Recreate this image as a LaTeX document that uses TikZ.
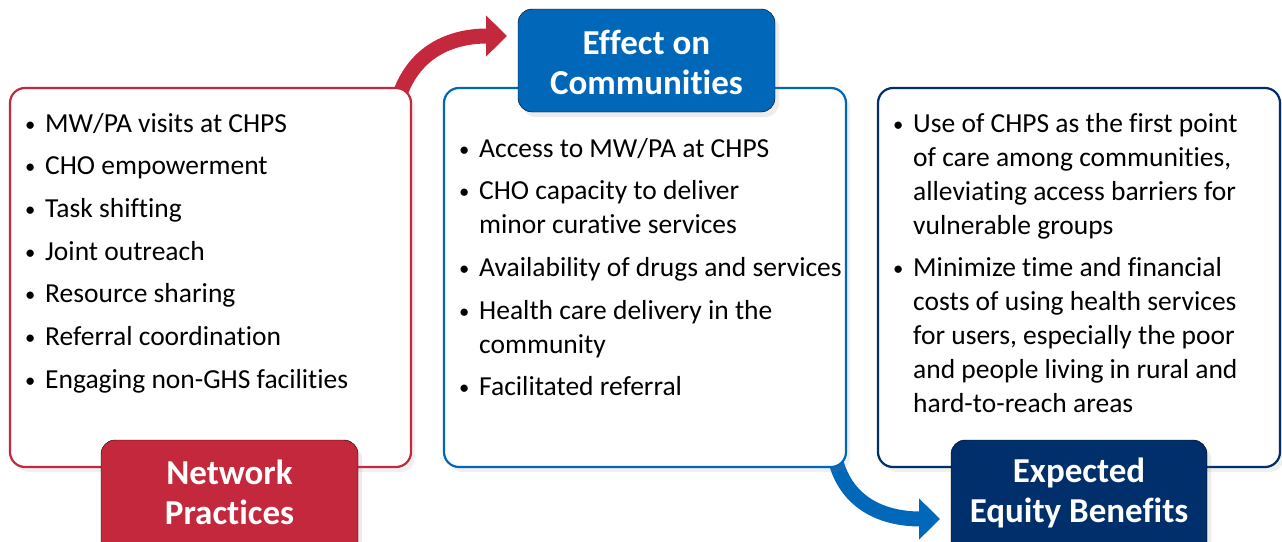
\documentclass[tikz,border=0pt]{standalone}
\usepackage{fontspec}
\usepackage{graphicx}
\setmainfont{Carlito}[Ligatures=NoCommon]
\usetikzlibrary{arrows.meta,shadows}
\definecolor{npred}{HTML}{C4283D}
\definecolor{ecblue}{HTML}{0067B9}
\definecolor{eqnavy}{HTML}{002F6C}
\tikzset{
  panel/.style={draw=#1, line width=2.2pt, fill=white, rounded corners=15pt,
    drop shadow={opacity=0.12, shadow xshift=4pt, shadow yshift=-5pt}},
  tag/.style={fill=#1, rounded corners=14pt,
    drop shadow={opacity=0.15, shadow xshift=4pt, shadow yshift=-5pt}},
  tagtext/.style={text=white, font=\fontsize{35}{40}\selectfont\bfseries, align=center, inner sep=0pt},
  listtext/.style={anchor=base west, inner sep=0pt, font=\fontsize{27.5}{34}\selectfont},
  flow/.style={line width=15pt, draw=#1, -{Triangle[length=21pt,width=40pt]}}
}
\newcommand{\itm}[1]{\makebox[20pt][l]{\raisebox{1pt}{\scalebox{0.75}{\textbullet}}}&#1}
\begin{document}
\begin{tikzpicture}[x=1pt,y=-1pt]
\useasboundingbox (0,0) rectangle (1282,541);
% connectors (behind panels)
\coordinate (ra) at (400,94);
\coordinate (rb) at (507,36);
\coordinate (ba) at (836,462);
\coordinate (bb) at (940,519);
\draw[flow=npred] (ra) .. controls (415,52) and (450,36) .. (rb);
\draw[flow=ecblue] (ba) .. controls (848,505) and (885,519) .. (bb);
% panels
\draw[panel=npred] (10,88) rectangle (411,467);
\draw[panel=ecblue] (444,88) rectangle (846,467);
\draw[panel=eqnavy] (878,88) rectangle (1280,467);
% lists
\node[listtext] (redlist) at (25,132) {\begin{tabular}[t]{@{}l@{}l@{}}
\itm{MW/PA visits at CHPS}\\[8.7pt]
\itm{CHO empowerment}\\[8.7pt]
\itm{Task shifting}\\[8.7pt]
\itm{Joint outreach}\\[8.7pt]
\itm{Resource sharing}\\[8.7pt]
\itm{Referral coordination}\\[8.7pt]
\itm{Engaging non-GHS facilities}
\end{tabular}};
\node[listtext] (bluelist) at (459,157) {\begin{tabular}[t]{@{}l@{}l@{}}
\itm{Access to MW/PA at CHPS}\\[8.7pt]
\itm{CHO capacity to deliver}\\
& minor curative services\\[8.7pt]
\itm{Availability of drugs and services}\\[8.7pt]
\itm{Health care delivery in the}\\
& community\\[8.7pt]
\itm{Facilitated referral}
\end{tabular}};
\node[listtext] (navylist) at (893,132) {\begin{tabular}[t]{@{}l@{}l@{}}
\itm{Use of CHPS as the first point}\\
& of care among communities,\\
& alleviating access barriers for\\
& vulnerable groups\\[8.7pt]
\itm{Minimize time and financial}\\
& costs of using health services\\
& for users, especially the poor\\
& and people living in rural and\\
& hard-to-reach areas
\end{tabular}};
% tags
\draw[tag=npred] (101,440) rectangle (358,556);
\node[tagtext] (redtag) at (229.5,492) {Network\\Practices};
\draw[tag=ecblue] (518,9) rectangle (775,112);
\node[tagtext] (bluetag) at (646.5,62) {Effect on\\Communities};
\draw[tag=eqnavy] (951,440) rectangle (1207,556);
\node[tagtext] (navytag) at (1079,493) {Expected\\Equity Benefits};
\end{tikzpicture}
\end{document}
